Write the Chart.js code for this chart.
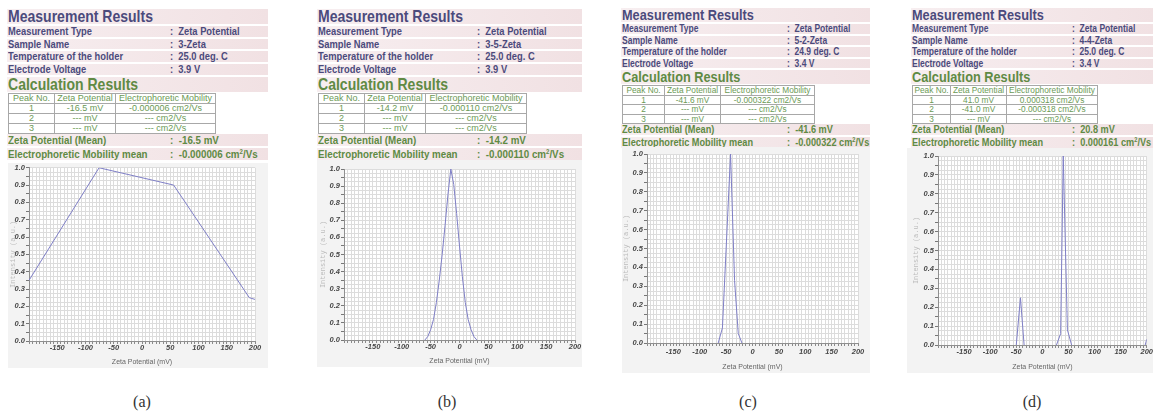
<!DOCTYPE html>
<html>
<head>
<meta charset="utf-8">
<title>Zeta potential results</title>
<script src="https://cdn.jsdelivr.net/npm/chart.js@4.4.1/dist/chart.umd.min.js"></script>
<style>
  html, body { margin: 0; padding: 0; background: #fff; }
  body { position: relative; width: 1153px; height: 415px; overflow: hidden;
         font-family: "Liberation Sans", Arial, sans-serif; }
  .band { position: absolute; background: linear-gradient(to right, #f7eef0, #f1e1e3); }
  .txt { position: absolute; white-space: nowrap; font-weight: bold; }
  .txt span { display: inline-block; transform: scaleX(0.85); transform-origin: 0 50%; }
  .txt small { font-size: 62%; position: relative; top: -4px; line-height: 0; }
  .blue { color: #4b4a7c; }
  .green { color: #608a44; }
  table.pk { position: absolute; border-collapse: collapse; color: #6b9a55; background: #fff; }
  table.pk td { border: 1px solid #a8a8a8; text-align: center; padding: 0; white-space: nowrap; }
  canvas { position: absolute; background: #f3f3f3; }
  .cap { position: absolute; font-family: "Liberation Serif", "Times New Roman", serif;
         font-size: 16px; line-height: 18px; color: #333; transform: translateX(-50%); }
</style>
</head>
<body>
<script>
// sample info, one entry per panel (a)-(d)
const sampleNames = ["3-Zeta", "3-5-Zeta", "5-2-Zeta", "4-4-Zeta"];
const holderTemps = ["25.0 deg. C", "25.0 deg. C", "24.9 deg. C", "25.0 deg. C"];
const voltages = ["3.9 V", "3.9 V", "3.4 V", "3.4 V"];
const peakZeta = [
    ["-16.5 mV", "--- mV", "--- mV"],
    ["-14.2 mV", "--- mV", "--- mV"],
    ["-41.6 mV", "--- mV", "--- mV"],
    ["41.0 mV", "-41.0 mV", "--- mV"]
];
const peakMobility = [
    ["-0.000006 cm2/Vs", "--- cm2/Vs", "--- cm2/Vs"],
    ["-0.000110 cm2/Vs", "--- cm2/Vs", "--- cm2/Vs"],
    ["-0.000322 cm2/Vs", "--- cm2/Vs", "--- cm2/Vs"],
    ["0.000318 cm2/Vs", "-0.000318 cm2/Vs", "--- cm2/Vs"]
];
const meanZeta = ["-16.5 mV", "-14.2 mV", "-41.6 mV", "20.8 mV"];
const meanMobility = ["-0.000006", "-0.000110", "-0.000322", "0.000161"];
const captions = ["(a)", "(b)", "(c)", "(d)"];

// intensity distributions
const zetaA = [-200, -76, 56, 190, 200];
const intensityA = [0.35, 1.0, 0.9, 0.25, 0.24];
const zetaB = [-60, -55, -50, -45, -40, -35, -30, -25, -20, -15, -10, -5, 0, 5, 10, 15, 20, 25, 30];
const intensityB = [0, 0.02, 0.06, 0.12, 0.22, 0.35, 0.5, 0.67, 0.85, 1.0, 0.91, 0.74, 0.55, 0.37, 0.22, 0.12, 0.06, 0.02, 0];
const zetaC = [-65, -57, -41.6, -34, -27, -20];
const intensityC = [0, 0.08, 1.0, 0.33, 0.05, 0];
const zetaD = [-50, -42, -35, 0, 27, 35, 40, 48, 56, 100, 197, 200];
const intensityD = [0, 0.25, 0, null, 0, 0.06, 1.0, 0.08, 0, null, 0, 0.03];

const xTickLabels = [-150, -100, -50, 0, 50, 100, 150, 200];
const yTickLabels = [0, 0.1, 0.2, 0.3, 0.4, 0.5, 0.6, 0.7, 0.8, 0.9, 1.0];

// text block sizes: the two left reports are printed a bit larger
const textBig = { top: 8, titleH: 17, titleF: 16.5, rowH: 12.7, rowF: 11, calcH: 17,
                  tabH: 10, tabF: 9, meanH: 14, meanF: 11.5 };
const textSmall = { top: 7, titleH: 16, titleF: 15, rowH: 11.5, rowF: 10, calcH: 16,
                    tabH: 9.5, tabF: 8.3, meanH: 13, meanF: 10.8 };

const panels = [
    { left: 7, width: 261, colon: 163, cols: [45, 60, 99], t: textBig, capX: 142,
      c: { x: 8, y: 163, w: 260, h: 205, yw: 21, pr: 13, pt: 3, xh: 27, lp: 0, ytp: 0.5 } },
    { left: 317, width: 265, colon: 160, cols: [45, 60, 100], t: textBig, capX: 447,
      c: { x: 317, y: 160, w: 265, h: 207, yw: 27, pr: 7, pt: 9, xh: 27, lp: 0, ytp: 1.5 } },
    { left: 621, width: 249, colon: 166, cols: [41, 55, 93], t: textSmall, capX: 748,
      c: { x: 622, y: 147, w: 248, h: 226, yw: 25, pr: 12, pt: 7, xh: 30, lp: 2.5, ytp: 0 } },
    { left: 911, width: 242, colon: 161, cols: [37, 55, 90], t: textSmall, capX: 1032,
      c: { x: 907, y: 148, w: 246, h: 225, yw: 31, pr: 6, pt: 8, xh: 28, lp: 0, ytp: 4.8 } }
];
const series = [[zetaA, intensityA], [zetaB, intensityB], [zetaC, intensityC], [zetaD, intensityD]];

function el(tag, cls, css, html) {
    const e = document.createElement(tag);
    if (cls) e.className = cls;
    Object.assign(e.style, css);
    if (html !== undefined) e.innerHTML = html;
    document.body.appendChild(e);
    return e;
}

function line(p, y, h, size, color, label, value) {
    el("div", "band", { left: p.left + "px", top: (y + 1) + "px", width: p.width + "px", height: (h - 2) + "px" });
    const css = { top: y + "px", height: h + "px", lineHeight: h + "px", fontSize: size + "px" };
    el("div", "txt " + color, Object.assign({ left: (p.left + 1) + "px" }, css), "<span>" + label + "</span>");
    if (value !== undefined) {
        el("div", "txt " + color, Object.assign({ left: (p.left + p.colon) + "px" }, css),
           "<span>:&nbsp;&nbsp;" + value + "</span>");
    }
}

function buildText(i) {
    const p = panels[i], t = p.t;
    let y = t.top;
    line(p, y, t.titleH, t.titleF, "blue", "Measurement Results"); y += t.titleH;
    line(p, y, t.rowH, t.rowF, "blue", "Measurement Type", "Zeta Potential"); y += t.rowH;
    line(p, y, t.rowH, t.rowF, "blue", "Sample Name", sampleNames[i]); y += t.rowH;
    line(p, y, t.rowH, t.rowF, "blue", "Temperature of the holder", holderTemps[i]); y += t.rowH;
    line(p, y, t.rowH, t.rowF, "blue", "Electrode Voltage", voltages[i]); y += t.rowH;
    line(p, y, t.calcH, t.titleF, "green", "Calculation Results"); y += t.calcH;

    let rows = "<tr><td>Peak No.</td><td>Zeta Potential</td><td>Electrophoretic Mobility</td></tr>";
    for (let k = 0; k < 3; k++) {
        rows += "<tr><td>" + (k + 1) + "</td><td>" + peakZeta[i][k] + "</td><td>" + peakMobility[i][k] + "</td></tr>";
    }
    const tab = el("table", "pk", { left: (p.left + 1) + "px", top: y + "px", fontSize: t.tabF + "px" }, rows);
    tab.querySelectorAll("tr").forEach(r => { r.style.height = t.tabH + "px"; r.style.lineHeight = (t.tabH - 1) + "px"; });
    tab.querySelectorAll("tr:first-child td").forEach((c, k) => { c.style.width = p.cols[k] + "px"; });
    y += 4 * t.tabH;

    line(p, y, t.meanH, t.meanF, "green", "Zeta Potential (Mean)", meanZeta[i]); y += t.meanH;
    line(p, y, t.meanH, t.meanF, "green", "Electrophoretic Mobility mean",
         meanMobility[i] + " cm<small>2</small>/Vs");

    el("div", "cap", { left: p.capX + "px", top: "393px" }, captions[i]);
}

// white plot area on the grey chart panel
const plotBg = {
    id: "plotBg",
    beforeDraw(chart) {
        const { ctx, chartArea: a } = chart;
        ctx.save();
        ctx.fillStyle = "#ffffff";
        ctx.fillRect(a.left, a.top, a.width, a.height);
        ctx.restore();
    }
};

const near = (v, list) => list.some(t => Math.abs(t - v) < 1e-6);
const halfTenth = v => Math.abs(v * 20 - Math.round(v * 20)) < 1e-6;
const tickFont = { family: "Liberation Sans", size: 7.5, style: "italic", weight: "bold", lineHeight: 1 };

function buildChart(i) {
    const g = panels[i].c;
    const xs = series[i][0], ys = series[i][1];
    const canvas = el("canvas", "", { left: g.x + "px", top: g.y + "px" });
    canvas.width = g.w;
    canvas.height = g.h;
    new Chart(canvas.getContext("2d"), {
        type: "line",
        data: {
            datasets: [{
                data: xs.map((x, k) => ({ x: x, y: ys[k] })),
                borderColor: "#7f7fc6",
                borderWidth: 1,
                pointRadius: 0,
                fill: false,
                spanGaps: false,
                tension: 0
            }]
        },
        options: {
            responsive: false,
            animation: false,
            devicePixelRatio: 1,
            layout: { padding: { top: g.pt, right: g.pr, left: 0, bottom: 0 } },
            plugins: { legend: { display: false }, tooltip: { enabled: false } },
            scales: {
                x: {
                    type: "linear",
                    min: -200,
                    max: 200,
                    afterFit: s => { s.height = g.xh; },
                    ticks: {
                        stepSize: 6.25,
                        autoSkip: false,
                        maxRotation: 0,
                        padding: g.lp,
                        font: tickFont,
                        color: "#474747",
                        callback: v => (xTickLabels.includes(v) ? String(v) : "")
                    },
                    grid: { color: "#dcdcdc", tickLength: 3, tickColor: "#8a8a8a" },
                    border: { color: "#8f8f8f" },
                    title: {
                        display: true,
                        text: "Zeta Potential (mV)",
                        font: { family: "Liberation Sans", size: 7 },
                        color: "#666",
                        padding: { top: 0, bottom: 2 }
                    }
                },
                y: {
                    min: 0,
                    max: 1,
                    afterFit: s => { s.width = g.yw; },
                    ticks: {
                        stepSize: 0.025,
                        autoSkip: false,
                        padding: 1,
                        font: tickFont,
                        color: "#474747",
                        callback: v => (near(v, yTickLabels) ? v.toFixed(1) : "")
                    },
                    grid: {
                        color: "#dcdcdc",
                        tickLength: 3,
                        tickColor: ctx => (ctx.tick && halfTenth(ctx.tick.value) ? "#777" : "rgba(0,0,0,0)")
                    },
                    border: { color: "#8f8f8f" },
                    title: {
                        display: true,
                        text: "Intensity (a.u.)",
                        font: { family: "Liberation Mono", size: 7 },
                        color: "#bcbcbc",
                        padding: { top: g.ytp, bottom: 0 }
                    }
                }
            }
        },
        plugins: [plotBg]
    });
}

for (let i = 0; i < panels.length; i++) {
    buildText(i);
    buildChart(i);
}
</script>
</body>
</html>
